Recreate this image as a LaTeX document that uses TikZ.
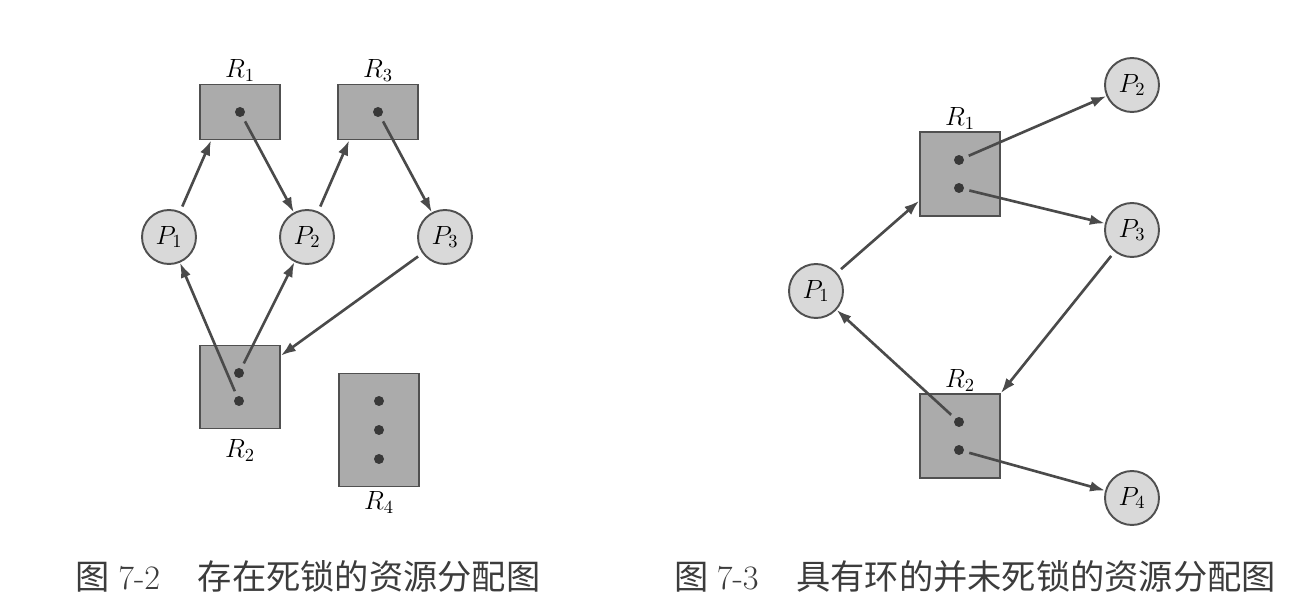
\RequirePackage{fix-cm}
\documentclass[tikz,border=0pt]{standalone}
\usepackage{fontspec}
\newfontfamily\cjk{Noto Sans CJK SC}
\usetikzlibrary{arrows.meta}
\definecolor{edgegray}{HTML}{505050}
\definecolor{resgray}{HTML}{ABABAB}
\definecolor{procgray}{HTML}{D9D9D9}
\definecolor{arrgray}{HTML}{4A4A4A}
\definecolor{unitgray}{HTML}{383838}
\definecolor{capgray}{HTML}{3C3C3C}
\begin{document}
\begin{tikzpicture}[x=0.02cm, y=-0.02cm,
	proc/.style={circle, draw=edgegray, fill=procgray, line width=1.1pt, minimum size=1.08cm, inner sep=0pt, font=\fontsize{15}{18}\selectfont},
	res/.style={draw=edgegray, fill=resgray, line width=1pt, inner sep=0pt, minimum width=1.6cm},
	unit/.style={circle, fill=unitgray, minimum size=0.2cm, inner sep=0pt},
	lbl/.style={font=\fontsize{15}{18}\selectfont, inner sep=1pt},
	arr/.style={-{Latex[length=0.3cm, width=0.21cm]}, line width=1.5pt, draw=arrgray, shorten <=3pt},
	caption/.style={font=\fontsize{19.5}{23}\selectfont, text=capgray}]
	\useasboundingbox (0,0) rectangle (1299,604);
	% left: deadlocked allocation graph
	\node[res, minimum height=1.1cm, label={[lbl]above:$R_1$}] (lr1) at (240,112) {};
	\node[res, minimum height=1.1cm, label={[lbl]above:$R_3$}] (lr3) at (378,112) {};
	\node[res, minimum height=1.66cm, label={[lbl, label distance=0.16cm]below:$R_2$}] (lr2) at (240,387) {};
	\node[res, minimum height=2.26cm, label={[lbl, label distance=0.04cm]below:$R_4$}] (lr4) at (379,430) {};
	\node[unit] (lr1d) at (lr1) {};
	\node[unit] (lr3d) at (lr3) {};
	\node[unit] (lr2a) at (239,373) {};
	\node[unit] (lr2b) at (239,401) {};
	\node[unit] (lr4a) at (379,401) {};
	\node[unit] (lr4b) at (379,430) {};
	\node[unit] (lr4c) at (379,459) {};
	\node[proc] (lp1) at (169,237) {$P_1$};
	\node[proc] (lp2) at (307,237) {$P_2$};
	\node[proc] (lp3) at (445,237) {$P_3$};
	\draw[arr] (lp1) -- ([xshift=0.24cm]lr1.south west);
	\draw[arr] (lr1d) -- (lp2);
	\draw[arr] (lp2) -- ([xshift=0.24cm]lr3.south west);
	\draw[arr] (lr3d) -- (lp3);
	\draw[arr] (lr2b) -- (lp1);
	\draw[arr] (lr2a) -- (lp2);
	\draw[arr] (lp3) -- ([yshift=-0.22cm]lr2.north east);
	% right: cycle without deadlock
	\node[res, minimum height=1.68cm, label={[lbl]above:$R_1$}] (rr1) at (960,174) {};
	\node[res, minimum height=1.68cm, label={[lbl]above:$R_2$}] (rr2) at (960,436) {};
	\node[unit] (rr1a) at (959,160) {};
	\node[unit] (rr1b) at (959,188) {};
	\node[unit] (rr2a) at (959,422) {};
	\node[unit] (rr2b) at (959,450) {};
	\node[proc] (rp1) at (816,291) {$P_1$};
	\node[proc] (rp2) at (1132,85) {$P_2$};
	\node[proc] (rp3) at (1132,230) {$P_3$};
	\node[proc] (rp4) at (1132,498) {$P_4$};
	\draw[arr] (rp1) -- ([yshift=0.32cm]rr1.south west);
	\draw[arr] (rr1a) -- (rp2);
	\draw[arr] (rr1b) -- (rp3);
	\draw[arr] (rp3) -- (rr2.north east);
	\draw[arr] (rr2a) -- (rp1);
	\draw[arr] (rr2b) -- (rp4);
	% captions
	\node[caption] (lcap) at (308,576) {{\cjk 图}\hspace{0.25em}7-2\hspace{1.1em}{\cjk 存在死锁的资源分配图}};
	\node[caption] (rcap) at (975,576) {{\cjk 图}\hspace{0.25em}7-3\hspace{1.1em}{\cjk 具有环的并未死锁的资源分配图}};
\end{tikzpicture}
\end{document}
